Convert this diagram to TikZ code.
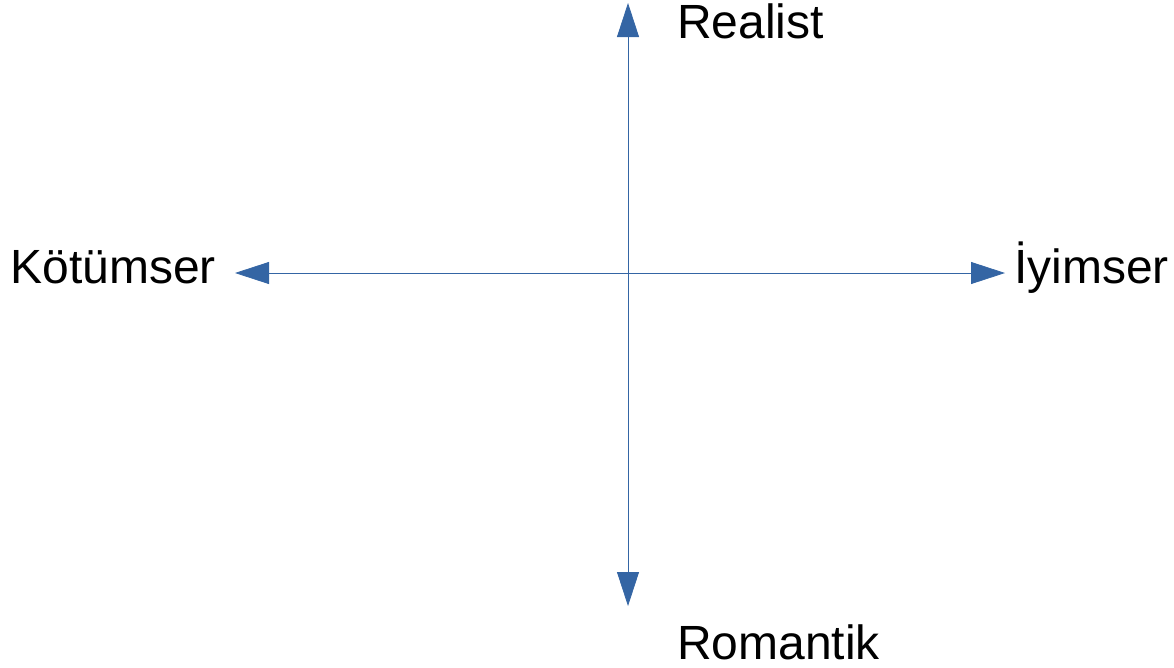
\documentclass[tikz,border=0pt]{standalone}
\usepackage{fontspec}
\setmainfont{Liberation Sans}
\usetikzlibrary{arrows.meta,positioning}
\definecolor{axisblue}{HTML}{3465A4}

\begin{document}
\begin{tikzpicture}[x=1pt,y=-1pt,
	axis/.style={draw=axisblue,line width=0.8pt,
		{Triangle[length=34pt,width=22pt,fill=axisblue]}-{Triangle[length=34pt,width=22pt,fill=axisblue]}},
	pole/.style={inner sep=0pt,font=\fontsize{48}{56}\selectfont}]
	\useasboundingbox (0,0) rectangle (1174,667);

	%% centre and the four tips of the axes
	\coordinate (O) at (628,273);
	\coordinate (N) at (628,3);
	\coordinate (S) at (628,606);
	\coordinate (W) at (235,273);
	\coordinate (E) at (1005,273);

	% axes
	\draw[axis] (S) -- (N);
	\draw[axis] (W) -- (E);

	% labels
	\node[pole,anchor=base west] (realist) at (677,38) {Realist};
	\node[pole,anchor=base west] (romantik) at (677,659) {Romantik};
	\node[pole,anchor=base east] (kotumser) at (216,283) {Kötümser};
	\node[pole,anchor=base west] (iyimser) at (1014,283) {İyimser};
\end{tikzpicture}
\end{document}
